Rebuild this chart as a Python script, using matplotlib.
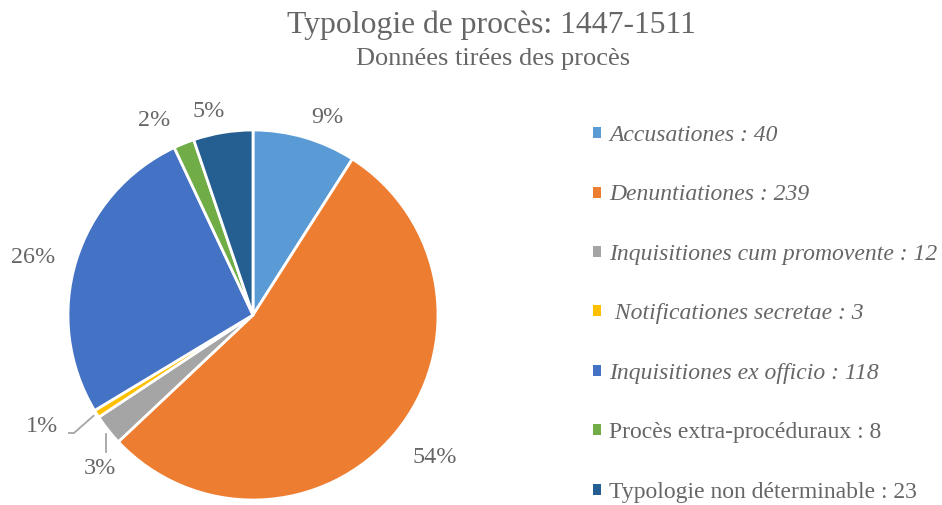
import numpy as np
import matplotlib.pyplot as plt
from matplotlib.patches import Patch

# Données du graphique
categories = ['Accusationes : 40', 'Denuntiationes : 239', 'Inquisitiones cum promovente : 12',
              ' Notificationes secretae : 3', 'Inquisitiones ex officio : 118',
              'Procès extra-procéduraux : 8', 'Typologie non déterminable : 23']
valeurs = [40, 239, 12, 3, 118, 8, 23]
pourcentages = ['9%', '54%', '3%', '1%', '26%', '2%', '5%']
italique = [True, True, True, True, True, False, False]

couleurs = ['#5B9BD5', '#ED7D31', '#A5A5A5', '#FFC000', '#4472C4', '#70AD47', '#255E91']
gris = '#666666'

# position des étiquettes (en rayons du camembert)
pos_pct = [(0.40, 1.07), (0.98, -0.77), (-0.83, -0.83), (-1.14, -0.605),
           (-1.19, 0.31), (-0.535, 1.05), (-0.24, 1.10)]

plt.rcParams['font.family'] = ['Liberation Serif', 'DejaVu Serif']

fig = plt.figure(figsize=(9.42, 5.05), dpi=100)
ax = fig.add_axes([68/942, 5/505, 370/942, 370/505])

wedges, _ = ax.pie(valeurs, colors=couleurs, startangle=90, counterclock=False,
                   wedgeprops=dict(edgecolor='white', linewidth=2), radius=1)
ax.set_xlim(-1, 1)
ax.set_ylim(-1, 1)
ax.set_aspect('equal')
ax.axis('off')

# Étiquettes des pourcentages
for i, w in enumerate(wedges):
    ang = np.deg2rad((w.theta1 + w.theta2) / 2)
    x, y = np.cos(ang), np.sin(ang)
    px, py = pos_pct[i]
    ax.text(px, py, pourcentages[i], ha='center', va='center', fontsize=17.4, color=gris)
    # lignes de rappel pour les petites parts
    if pourcentages[i] == '1%':
        ax.plot([px + 0.105, px + 0.172, 1.02*x], [py - 0.033, py - 0.033, 1.02*y],
                color='#A5A5A5', lw=1.3, solid_joinstyle='miter')
    elif pourcentages[i] == '3%':
        ax.plot([1.0*x - 0.01, 1.0*x - 0.01], [1.0*y - 0.02, py + 0.09],
                color='#A5A5A5', lw=1.3)

fig.text(0.522, 1 - 33/505, 'Typologie de procès: 1447-1511', ha='center', va='baseline',
         fontsize=22.8, color=gris)
fig.text(0.523, 1 - 65/505, 'Données tirées des procès', ha='center', va='baseline',
         fontsize=19, color=gris)

handles = [Patch(facecolor=c, edgecolor='none') for c in couleurs]
leg = fig.legend(handles, categories, loc='upper left', bbox_to_anchor=(593/942, 1 - 125/505),
                 frameon=False, fontsize=17, handlelength=0.34, handleheight=0.34,
                 handletextpad=0.35, labelspacing=1.63, borderaxespad=0, borderpad=0)
for t, it in zip(leg.get_texts(), italique):
    t.set_color(gris)
    if it:
        t.set_style('italic')

plt.savefig('out.png', dpi=100)
